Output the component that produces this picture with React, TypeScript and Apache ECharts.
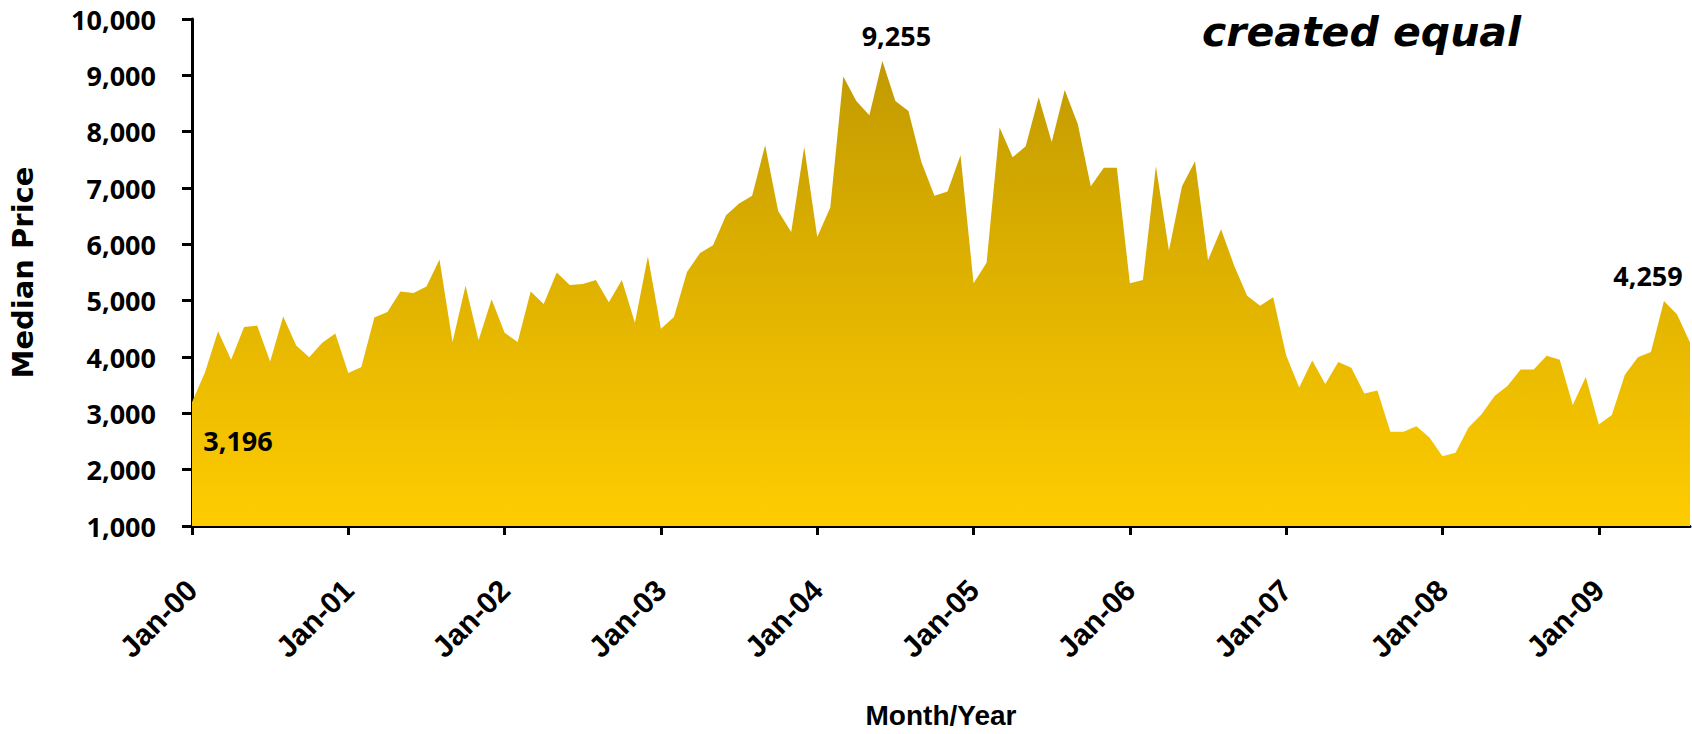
import React, { useEffect, useRef } from "react";
import * as echarts from "echarts";

// ---- data ----
const monthNames = ["Jan", "Feb", "Mar", "Apr", "May", "Jun", "Jul", "Aug", "Sep", "Oct", "Nov", "Dec"];
const yearCodes = ["00", "01", "02", "03", "04", "05", "06", "07", "08", "09"];

const medianPrice2000 = [3196, 3729, 4455, 3950, 4531, 4557, 3918, 4721, 4203, 3994, 4253, 4418];
const medianPrice2001 = [3716, 3824, 4702, 4797, 5163, 5138, 5251, 5731, 4266, 5264, 4298, 5024];
const medianPrice2002 = [4430, 4266, 5163, 4942, 5498, 5277, 5296, 5365, 4973, 5365, 4607, 5782];
const medianPrice2003 = [4500, 4708, 5510, 5845, 5984, 6515, 6723, 6862, 7759, 6591, 6218, 7728];
const medianPrice2004 = [6130, 6654, 8979, 8543, 8290, 9255, 8543, 8366, 7456, 6862, 6938, 7582];
const medianPrice2005 = [5308, 5675, 8075, 7545, 7740, 8612, 7816, 8738, 8138, 7033, 7361, 7361];
const medianPrice2006 = [5308, 5365, 7387, 5889, 7033, 7475, 5719, 6268, 5624, 5087, 4910, 5062];
const medianPrice2007 = [4026, 3457, 3937, 3521, 3912, 3811, 3350, 3407, 2674, 2674, 2769, 2573];
const medianPrice2008 = [2238, 2301, 2750, 2984, 3306, 3489, 3780, 3780, 4020, 3950, 3148, 3647];
const medianPrice2009 = [2800, 2971, 3685, 3994, 4089, 4992, 4759, 4259];

const medianPrice = [
  ...medianPrice2000, ...medianPrice2001, ...medianPrice2002, ...medianPrice2003, ...medianPrice2004,
  ...medianPrice2005, ...medianPrice2006, ...medianPrice2007, ...medianPrice2008, ...medianPrice2009,
];

const categories: string[] = [];
yearCodes.forEach((y) => monthNames.forEach((m) => categories.push(`${m}-${y}`)));
const monthCategories = categories.slice(0, medianPrice.length);

const yMin = 1000;
const yMax = 10000;
const yStep = 1000;

// indices of points that carry a value label
const labeledIndices = [0, 53, 115];

const xAxisTitle = "Month/Year";
const yAxisTitle = "Median Price";
const cornerText = "created equal";

// ---- styles ----
const labelOffsets: Record<number, [number, number]> = {
  0: [46, 57],
  53: [14, -6],
  115: [-42, -48],
};

const numFont = "'Open Sans', 'Noto Sans', sans-serif";
const fmt = (v: number) => v.toLocaleString("en-US");

export default function App() {
  const ref = useRef<HTMLDivElement>(null);

  useEffect(() => {
    if (!ref.current) return;
    const chart = echarts.init(ref.current, undefined, { renderer: "svg" });

    const markData = labeledIndices.map((i) => ({
      coord: [i, medianPrice[i]],
      value: medianPrice[i],
      label: {
        show: true,
        position: "top",
        distance: 5,
        offset: labelOffsets[i],
        color: "#000",
        fontFamily: numFont,
        fontWeight: "bold",
        fontSize: 27,
      },
    }));

    chart.setOption({
      animation: false,
      backgroundColor: "#ffffff",
      grid: { left: 192, right: 2, top: 19, bottom: 205, containLabel: false },
      graphic: [
        {
          type: "text",
          left: 1202,
          top: 11,
          style: {
            text: cornerText,
            fill: "#000",
            font: "italic bold 41px 'DejaVu Sans', sans-serif",
          },
        },
      ],
      xAxis: {
        type: "category",
        data: monthCategories,
        boundaryGap: false,
        axisLine: { show: true, lineStyle: { color: "#000", width: 3 } },
        axisTick: { show: true, interval: 11, length: 9, lineStyle: { color: "#000", width: 3 } },
        axisLabel: {
          interval: 11,
          rotate: 45,
          margin: 59,
          color: "#000",
          fontFamily: "'Liberation Sans', Arial, sans-serif",
          fontWeight: "bold",
          fontSize: 30,
        },
        splitLine: { show: false },
        name: xAxisTitle,
        nameLocation: "middle",
        nameGap: 175,
        nameTextStyle: {
          color: "#000",
          fontFamily: "'Liberation Sans', Arial, sans-serif",
          fontWeight: "bold",
          fontSize: 28,
        },
      },
      yAxis: {
        type: "value",
        min: yMin,
        max: yMax,
        interval: yStep,
        axisLine: { show: true, lineStyle: { color: "#000", width: 3 } },
        axisTick: { show: true, length: 10, lineStyle: { color: "#000", width: 3 } },
        splitLine: { show: false },
        axisLabel: {
          margin: 36,
          color: "#000",
          fontFamily: numFont,
          fontWeight: "bold",
          fontSize: 27,
          formatter: (v: number) => fmt(v),
        },
        name: yAxisTitle,
        nameLocation: "middle",
        nameGap: 155,
        nameTextStyle: {
          color: "#000",
          fontFamily: "'DejaVu Sans', sans-serif",
          fontWeight: "bold",
          fontSize: 29,
        },
      },
      series: [
        {
          type: "line",
          data: medianPrice,
          silent: true,
          showSymbol: false,
          lineStyle: { width: 0, opacity: 0 },
          areaStyle: {
            opacity: 1,
            color: new echarts.graphic.LinearGradient(0, 0, 0, 1, [
              { offset: 0, color: "#C29A00" },
              { offset: 1, color: "#FFCC00" },
            ]),
          },
          emphasis: { disabled: true },
          markPoint: {
            silent: true,
            symbol: "circle",
            symbolSize: 1,
            itemStyle: { color: "rgba(0,0,0,0)" },
            label: {
              show: true,
              color: "#000",
              fontFamily: numFont,
              fontWeight: "bold",
              fontSize: 27,
              formatter: (p: any) => fmt(p.value),
            },
            data: markData,
          },
        },
      ],
    });

    return () => chart.dispose();
  }, []);

  return (
    <div
      ref={ref}
      style={{ position: "absolute", left: 0, top: 0, width: 1692, height: 734 }}
    />
  );
}
